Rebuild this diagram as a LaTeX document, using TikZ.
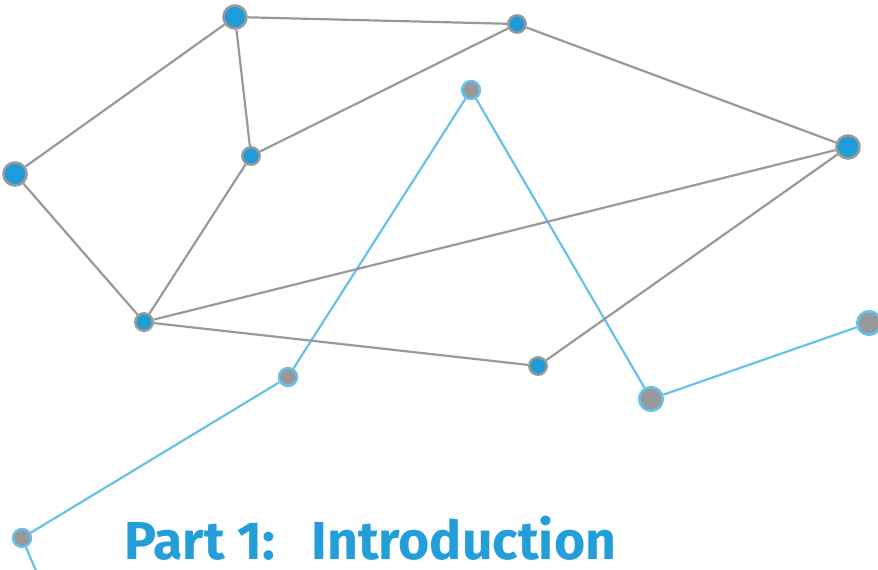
\documentclass[tikz,border=0pt]{standalone}
\usepackage{fontspec}
\setmainfont{Fira Sans}
\definecolor{edgegray}{HTML}{999999}
\definecolor{dotblue}{HTML}{1E9BD9}
\definecolor{skyline}{HTML}{66C2EA}
\definecolor{titleblue}{HTML}{239ED9}
\begin{document}
\begin{tikzpicture}[x=1pt,y=-1pt,
  grayedge/.style={draw=edgegray,line width=2.2pt},
  skyedge/.style={draw=skyline,line width=2.2pt},
  bigdot/.style={circle,draw=edgegray,line width=2.6pt,fill=dotblue,minimum size=23pt,inner sep=0pt},
  smalldot/.style={circle,draw=edgegray,line width=2.4pt,fill=dotblue,minimum size=17.5pt,inner sep=0pt},
  bigring/.style={circle,draw=skyline,line width=2.6pt,fill=edgegray,minimum size=23.5pt,inner sep=0pt},
  smallring/.style={circle,draw=skyline,line width=2.4pt,fill=edgegray,minimum size=18pt,inner sep=0pt}]
\useasboundingbox (0,0) rectangle (878,570);
% light-blue path
\node[smallring] (h) at (471,90) {};
\node[smallring] (i) at (288,377) {};
\node[bigring] (j) at (651,399) {};
\node[bigring] (k) at (869,323) {};
\node[smallring] (l) at (22,538) {};
\coordinate (lend) at (39,578);
\draw[skyedge] (h) -- (i) (i) -- (l) (h) -- (j) (j) -- (k) (l) -- (lend);
% gray network
\node[bigdot] (a) at (235,17) {};
\node[smalldot] (b) at (517,24) {};
\node[bigdot] (c) at (848,147) {};
\node[bigdot] (d) at (15,174) {};
\node[smalldot] (e) at (251,156) {};
\node[smalldot] (f) at (144,322) {};
\node[smalldot] (g) at (538,366) {};
\draw[grayedge] (a) -- (b) (a) -- (d) (a) -- (e) (b) -- (e) (b) -- (c)
  (d) -- (f) (e) -- (f) (f) -- (c) (f) -- (g) (g) -- (c);
\node[anchor=base west,inner sep=0pt,text=titleblue,font=\fontsize{53.5}{56}\selectfont\bfseries] (title) at (124,559) {Part 1:\hspace{0.68em}Introduction};
\end{tikzpicture}
\end{document}
